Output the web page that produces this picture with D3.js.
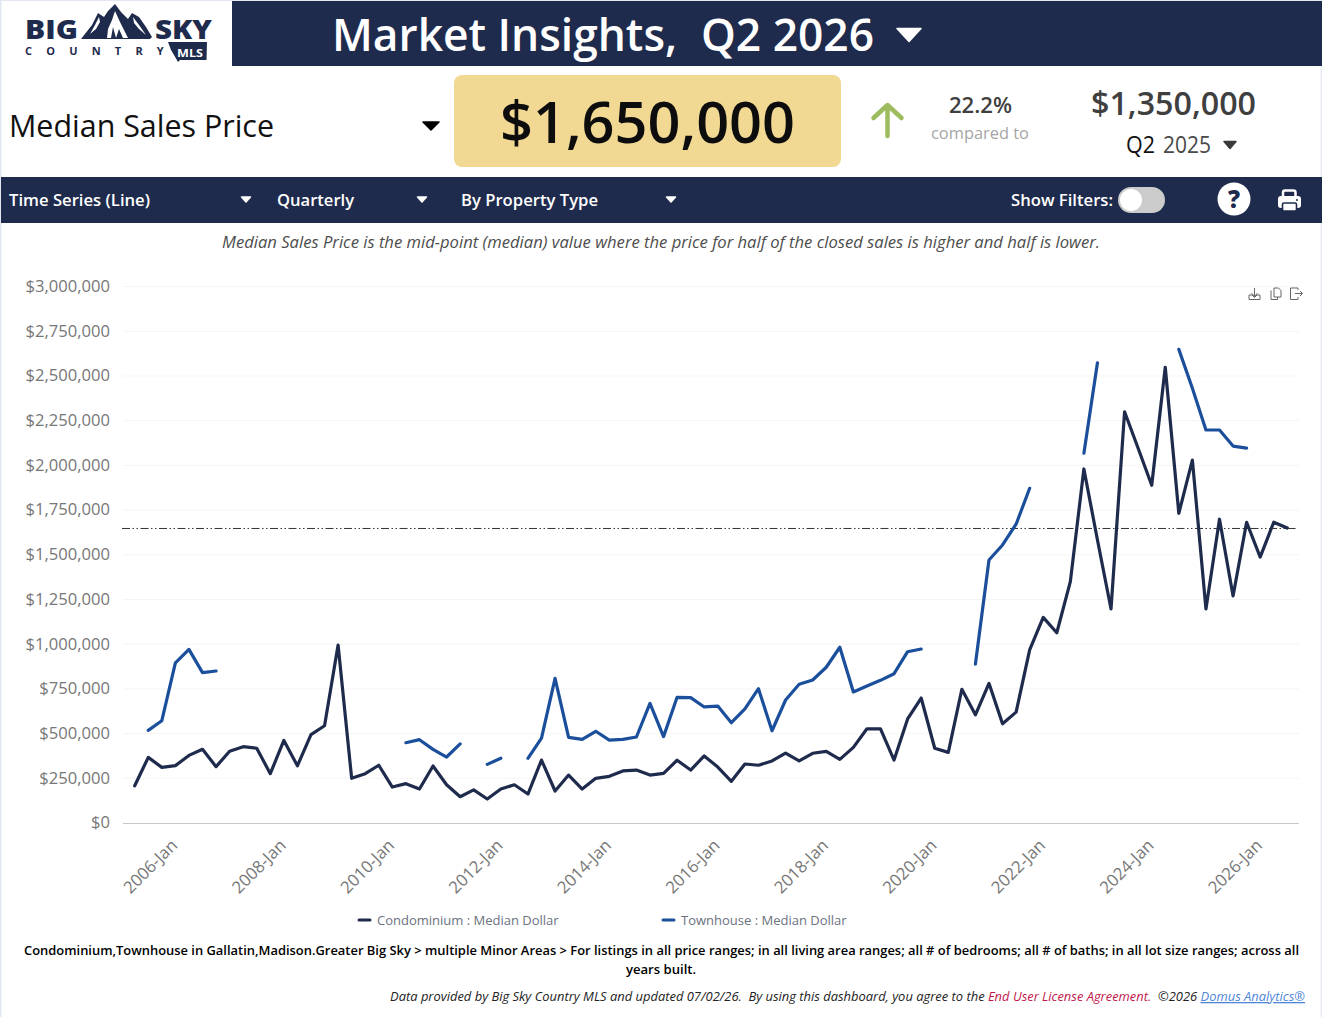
<!DOCTYPE html>
<html>
<head>
<meta charset="utf-8">
<title>Market Insights</title>
<script src="https://cdn.jsdelivr.net/npm/d3@7"></script>
<style>
  html, body { margin: 0; padding: 0; background: #fff; }
  svg { display: block; font-family: "Open Sans", "Noto Sans", sans-serif; }
  text { white-space: pre; }
</style>
</head>
<body>
<svg id="page" width="1322" height="1017"></svg>
<script>
// Quarter labels, first quarter of 2005 through second quarter of 2026
const quarters = [
  "2005-Jan","2005-Apr","2005-Jul","2005-Oct","2006-Jan","2006-Apr","2006-Jul","2006-Oct",
  "2007-Jan","2007-Apr","2007-Jul","2007-Oct","2008-Jan","2008-Apr","2008-Jul","2008-Oct",
  "2009-Jan","2009-Apr","2009-Jul","2009-Oct","2010-Jan","2010-Apr","2010-Jul","2010-Oct",
  "2011-Jan","2011-Apr","2011-Jul","2011-Oct","2012-Jan","2012-Apr","2012-Jul","2012-Oct",
  "2013-Jan","2013-Apr","2013-Jul","2013-Oct","2014-Jan","2014-Apr","2014-Jul","2014-Oct",
  "2015-Jan","2015-Apr","2015-Jul","2015-Oct","2016-Jan","2016-Apr","2016-Jul","2016-Oct",
  "2017-Jan","2017-Apr","2017-Jul","2017-Oct","2018-Jan","2018-Apr","2018-Jul","2018-Oct",
  "2019-Jan","2019-Apr","2019-Jul","2019-Oct","2020-Jan","2020-Apr","2020-Jul","2020-Oct",
  "2021-Jan","2021-Apr","2021-Jul","2021-Oct","2022-Jan","2022-Apr","2022-Jul","2022-Oct",
  "2023-Jan","2023-Apr","2023-Jul","2023-Oct","2024-Jan","2024-Apr","2024-Jul","2024-Oct",
  "2025-Jan","2025-Apr","2025-Jul","2025-Oct","2026-Jan","2026-Apr"
];

// Median sale price per quarter, in dollars
const condominium = [
  208000,367000,311000,321000,378000,412000,315000,401000,427000,418000,
  276000,462000,320000,494000,544000,995000,250000,276000,323000,201000,
  220000,190000,319000,214000,147000,185000,134000,190000,214000,162000,
  352000,179000,268000,190000,250000,261000,291000,296000,268000,278000,
  351000,296000,375000,313000,233000,330000,323000,347000,391000,347000,
  390000,401000,356000,423000,527000,526000,352000,582000,699000,418000,
  395000,748000,605000,781000,555000,620000,968000,1150000,1064000,1350000,
  1980000,1583000,1197000,2300000,2096000,1889000,2549000,1732000,2030000,1197000,
  1699000,1270000,1682000,1487000,1682000,1650000
];
const townhouse = [
  null,518000,572000,896000,971000,841000,850000,null,null,null,
  null,null,null,null,null,null,null,null,null,null,
  449000,466000,412000,369000,442000,null,328000,362000,null,362000,
  475000,809000,479000,468000,513000,464000,468000,481000,669000,483000,
  703000,701000,649000,654000,561000,638000,751000,516000,688000,776000,
  800000,871000,983000,733000,766000,798000,835000,958000,973000,null,
  null,null,889000,1471000,1555000,1671000,1872000,null,null,null,
  2068000,2574000,null,null,null,null,null,2649000,2431000,2198000,
  2198000,2108000,2097000,null,null,null
];

const yTicks = [0,250000,500000,750000,1000000,1250000,1500000,1750000,2000000,2250000,2500000,2750000,3000000];
const xTickLabels = ["2006-Jan","2008-Jan","2010-Jan","2012-Jan","2014-Jan","2016-Jan","2018-Jan","2020-Jan","2022-Jan","2024-Jan","2026-Jan"];
const seriesNames = ["Condominium : Median Dollar","Townhouse : Median Dollar"];
const currentValue = 1650000;

const NAVY = "#1f2b4d", BLUE = "#1b4f9c", GOLD = "#f1d893", GRID = "#f5f5f5";

const svg = d3.select("#page");

// Helpers for plain text and the small dropdown triangles
function label(sel, x, y, str, o = {}) {
  const t = sel.append("text").attr("x", x).attr("y", y).text(str)
    .attr("font-size", o.size || 16).attr("fill", o.fill || "#000")
    .attr("font-weight", o.weight || 400).attr("font-style", o.style || "normal")
    .attr("text-anchor", o.anchor || "start");
  if (o.fit) t.attr("textLength", o.fit).attr("lengthAdjust", "spacingAndGlyphs");
  return t;
}
function caret(sel, cx, cy, w, h, fill) {
  sel.append("path")
    .attr("d", `M${cx - w / 2},${cy - h / 2}L${cx + w / 2},${cy - h / 2}L${cx},${cy + h / 2}Z`)
    .attr("fill", fill).attr("stroke", fill).attr("stroke-width", 1.5).attr("stroke-linejoin", "round");
}

// Page frame
svg.append("rect").attr("width", 1322).attr("height", 1017).attr("fill", "#fff");
svg.append("rect").attr("width", 1.5).attr("height", 1017).attr("fill", "#e2e7f1");
svg.append("rect").attr("width", 1322).attr("height", 1).attr("fill", "#e2e7f1");
svg.append("rect").attr("x", 1320.5).attr("width", 1.5).attr("height", 1017).attr("fill", "#eceef3");

// Title band
svg.append("rect").attr("x", 232).attr("y", 1).attr("width", 1090).attr("height", 65).attr("fill", NAVY);
label(svg, 332, 51, "Market Insights,", { size: 45, fill: "#fff", weight: 600, fit: 345 });
label(svg, 701, 51, "Q2 2026", { size: 45, fill: "#fff", weight: 600, fit: 173 });
caret(svg, 909, 35, 24, 13, "#fff");

// Brand mark
const logo = svg.append("g");
label(logo, 25, 38.5, "BIG", { size: 26, fill: NAVY, weight: 800, fit: 53 });
label(logo, 155, 38.5, "SKY", { size: 26, fill: NAVY, weight: 800, fit: 57 });
logo.append("path").attr("fill", NAVY)
  .attr("d", "M81,39L92,25L98,13L104,17L108,11L115,4L121,12L128,19L132,13L139,17L146,27L152,37L150,39Z");
logo.append("path").attr("fill", "#fff")
  .attr("d", "M115,11L112,20L108,29L107,38L111,38L113,27L116,38L119,29L123,38L128,38L120,22ZM99,17L95,25L90,34L96,29L100,22ZM133,17L139,25L146,35L139,29L134,23Z");
label(logo, 25, 55, "COUNTRY", { size: 11, fill: NAVY, weight: 700 }).attr("letter-spacing", "14.2");
logo.append("path").attr("fill", NAVY)
  .attr("d", "M168,42L207,42L206.5,60L180,60L178,62L174,55L171,50Z");
label(logo, 177, 57, "MLS", { size: 10.2, fill: "#fff", weight: 700, fit: 26 });

// KPI row
label(svg, 9, 137, "Median Sales Price", { size: 31, weight: 500, fill: "#111", fit: 265 });
caret(svg, 431, 126, 16, 8, "#000");
svg.append("rect").attr("x", 454).attr("y", 75).attr("width", 387).attr("height", 92).attr("rx", 8).attr("fill", GOLD);
label(svg, 500, 143, d3.format("$,")(currentValue), { size: 58, weight: 600, fill: "#0d0d0d", fit: 295 });

// Up arrow next to the change figure
svg.append("path")
  .attr("d", "M887.5,136V105M873.5,118L887.5,105L901.5,118")
  .attr("fill", "none").attr("stroke", "#9cbc5e").attr("stroke-width", 4.5)
  .attr("stroke-linecap", "round").attr("stroke-linejoin", "round");

label(svg, 949, 113, "22.2%", { size: 22, fill: "#3f3f3f", weight: 600, fit: 63 });
label(svg, 931, 139, "compared to", { size: 17, fill: "#a6a6a6", fit: 98 });
label(svg, 1091, 115, "$1,350,000", { size: 32, fill: "#3f3f3f", weight: 600, fit: 165 });
label(svg, 1126, 153, "Q2", { size: 23, fill: "#111", fit: 29 });
label(svg, 1163, 153, "2025", { size: 23, fill: "#4a4a4a", fit: 48 });
caret(svg, 1230, 145, 12, 7, "#3a3a3a");

// Control band
svg.append("rect").attr("x", 1).attr("y", 177).attr("width", 1321).attr("height", 46).attr("fill", NAVY);
const ctl = { size: 17, fill: "#fff", weight: 650 };
label(svg, 9, 206, "Time Series (Line)", { ...ctl, fit: 141 });
caret(svg, 246, 199.5, 9, 5, "#fff");
label(svg, 277, 206, "Quarterly", { ...ctl, fit: 77 });
caret(svg, 422, 199.5, 9, 5, "#fff");
label(svg, 461, 206, "By Property Type", { ...ctl, fit: 137 });
caret(svg, 671, 199.5, 9, 5, "#fff");
label(svg, 1011, 206, "Show Filters:", { ...ctl, fit: 102 });
svg.append("rect").attr("x", 1118).attr("y", 187).attr("width", 47).attr("height", 26).attr("rx", 13).attr("fill", "#cccccc");
svg.append("circle").attr("cx", 1131).attr("cy", 200).attr("r", 11).attr("fill", "#fff");
svg.append("circle").attr("cx", 1234).attr("cy", 199).attr("r", 16.5).attr("fill", "#fff");
label(svg, 1234, 208, "?", { size: 24, weight: 800, anchor: "middle", fill: NAVY });

// Printer glyph
const printer = svg.append("g").attr("transform", "translate(1278,189)");
printer.append("path").attr("fill", "none").attr("stroke", "#fff").attr("stroke-width", 2.5)
  .attr("d", "M5,8V3.5Q5,1.5 7,1.5H15.5Q17.5,1.5 17.5,3.5V8");
printer.append("rect").attr("y", 7).attr("width", 23).attr("height", 12).attr("rx", 3).attr("fill", "#fff");
printer.append("rect").attr("x", 4.5).attr("y", 14).attr("width", 14).attr("height", 8).attr("rx", 1.5).attr("fill", "#fff").attr("stroke", NAVY).attr("stroke-width", 1.6);
printer.append("circle").attr("cx", 19).attr("cy", 11).attr("r", 1).attr("fill", NAVY);

label(svg, 222, 247.5, "Median Sales Price is the mid-point (median) value where the price for half of the closed sales is higher and half is lower.",
  { size: 16.5, style: "italic", fill: "#4d4d4d", fit: 878 });

// Chart scales
const x = d3.scalePoint().domain(quarters).range([134.7, 1287.3]);
const y = d3.scaleLinear().domain([0, 3000000]).range([823, 286.6]);

// Value gridlines and labels
const yAxis = d3.axisLeft(y).tickValues(yTicks).tickFormat(d3.format("$,")).tickSize(0).tickPadding(0);
const yG = svg.append("g").attr("transform", "translate(110,-0.5)").call(yAxis).attr("font-family", null).attr("font-size", null);
yG.select(".domain").remove();
yG.selectAll("text").attr("font-size", 16.6).attr("fill", "#777");

svg.append("g").selectAll("line").data(yTicks.filter(d => d > 0)).join("line")
  .attr("x1", 123).attr("x2", 1299)
  .attr("y1", d => y(d)).attr("y2", d => y(d))
  .attr("stroke", GRID).attr("stroke-width", 1);

// Time axis
const xAxis = d3.axisBottom(x).tickValues(xTickLabels).tickSize(0).tickPadding(0);
const xG = svg.append("g").attr("transform", "translate(0,823)").call(xAxis).attr("font-family", null).attr("font-size", null);
xG.select(".domain").remove();
xG.selectAll("text").attr("font-size", 16.8).attr("fill", "#777")
  .attr("text-anchor", "end").attr("dy", 0).attr("y", 0)
  .attr("transform", "translate(-11,23.5) rotate(-45)");
svg.append("line").attr("x1", 123).attr("x2", 1299).attr("y1", 823.5).attr("y2", 823.5).attr("stroke", "#c8c8c8").attr("stroke-width", 1.2);

// Series lines; gaps stand for quarters without sales
const line = d3.line()
  .defined(d => d[1] !== null)
  .x(d => x(d[0])).y(d => y(d[1]));
const asPairs = vals => quarters.map((q, i) => [q, vals[i]]);

// Reference line at the current value
svg.append("line").attr("x1", 122).attr("x2", 1297)
  .attr("y1", y(currentValue) + 0.5).attr("y2", y(currentValue) + 0.5)
  .attr("stroke", "#333").attr("stroke-width", 1).attr("stroke-dasharray", "8,2.5,1.5,2.5,1.5,2.5");

[[townhouse, BLUE], [condominium, NAVY]].forEach(([vals, color]) => {
  svg.append("path").attr("d", line(asPairs(vals)))
    .attr("fill", "none").attr("stroke", color).attr("stroke-width", 3.2)
    .attr("stroke-linecap", "round").attr("stroke-linejoin", "round");
});

// Chart tool icons
const tools = svg.append("g").attr("fill", "none").attr("stroke", "#666").attr("stroke-width", 1);
tools.append("path").attr("d", "M1249,295V299.5H1260V295H1257L1254.5,297.5L1252,295ZM1254.5,288V296.5M1251.5,293L1254.5,296.5L1257.5,293");
tools.append("path").attr("d", "M1271,290.5V299.5H1277.5V297M1274,297V288H1278.5L1281,290.5V297Z");
tools.append("path").attr("d", "M1298,290V288H1290.5V299.5H1298V297M1295,293.5H1302.5M1300,291L1302.5,293.5L1300,296");

// Legend
const legendItems = [{ x: 358, c: NAVY }, { x: 662, c: BLUE }];
legendItems.forEach((it, i) => {
  svg.append("line").attr("x1", it.x + 1).attr("x2", it.x + 12).attr("y1", 920).attr("y2", 920)
    .attr("stroke", it.c).attr("stroke-width", 3).attr("stroke-linecap", "round");
  label(svg, it.x + 19, 924.5, seriesNames[i], { size: 13, fill: "#6b7280" });
});

// Footnotes
label(svg, 24, 955, "Condominium,Townhouse in Gallatin,Madison.Greater Big Sky > multiple Minor Areas > For listings in all price ranges; in all living area ranges; all # of bedrooms; all # of baths; in all lot size ranges; across all",
  { size: 13.1, weight: 550, fit: 1275 });
label(svg, 661, 973.5, "years built.", { size: 13.1, anchor: "middle", weight: 550 });
const foot = label(svg, 1305, 1001, "", { size: 12.93, style: "italic", anchor: "end", fill: "#222" });
foot.append("tspan").text("Data provided by Big Sky Country MLS and updated 07/02/26.  By using this dashboard, you agree to the ");
foot.append("tspan").text("End User License Agreement.").attr("fill", "#c2184b");
foot.append("tspan").text("  ©2026 ");
foot.append("tspan").text("Domus Analytics®").attr("fill", "#4f86d6").attr("text-decoration", "underline");
</script>
</body>
</html>
